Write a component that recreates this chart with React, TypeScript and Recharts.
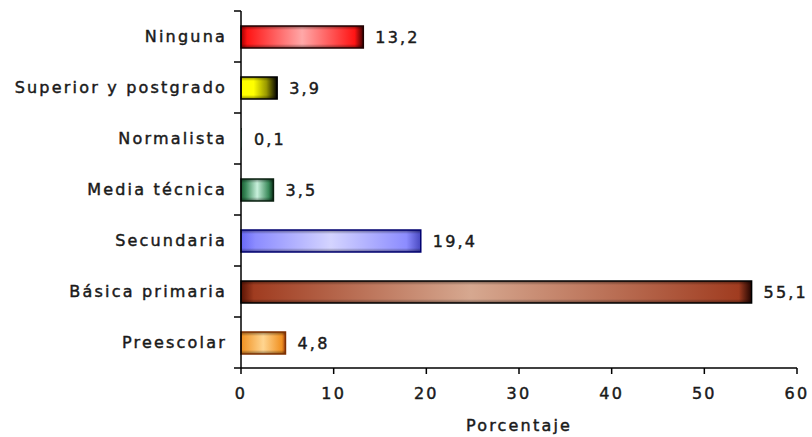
import React from 'react';
import { BarChart, Bar, XAxis, YAxis, LabelList } from 'recharts';

const categories = ['Ninguna', 'Superior y postgrado', 'Normalista', 'Media técnica', 'Secundaria', 'Básica primaria', 'Preescolar'];
const values = [13.2, 3.9, 0.1, 3.5, 19.4, 55.1, 4.8];
const xTicks = [0, 10, 20, 30, 40, 50, 60];

const data = categories.map((c, i) => ({ name: c, value: values[i] }));

const FONT = '"DejaVu Sans", Verdana, sans-serif';
const LS = 2.2;
const FS = 16;
const TXT = '#1a1a1a';
const SW = 0.45;

type Stop = [number, string];
const gradients: { stops: Stop[]; stroke: string }[] = [
  { stops: [[0, '#a00000'], [0.05, '#ff1414'], [0.5, '#ffa8a8'], [0.93, '#ff1414'], [1, '#400000']], stroke: '#200000' },
  { stops: [[0, '#ffff00'], [0.35, '#ffff00'], [0.7, '#9a9a00'], [1, '#000000']], stroke: '#000000' },
  { stops: [[0, '#1a5a30'], [0.5, '#80c8a0'], [1, '#0a3018']], stroke: 'none' },
  { stops: [[0, '#1a5a30'], [0.15, '#3a8a5a'], [0.5, '#c8f0dc'], [0.85, '#3a8a5a'], [1, '#0a3018']], stroke: '#0a2010' },
  { stops: [[0, '#6868f8'], [0.08, '#8c8cff'], [0.5, '#d4d4ff'], [0.92, '#8c8cff'], [1, '#4848c0']], stroke: '#000070' },
  { stops: [[0, '#5a1404'], [0.025, '#a03c20'], [0.45, '#d6a890'], [0.975, '#a03c20'], [1, '#200400']], stroke: '#000000' },
  { stops: [[0, '#f09020'], [0.5, '#ffd590'], [0.92, '#f09020'], [1, '#a04010']], stroke: '#803000' },
];

const textStyle = {
  fill: TXT,
  stroke: TXT,
  strokeWidth: SW,
  fontSize: FS,
  fontFamily: FONT,
  letterSpacing: LS,
};

const YTick = (props: any) => {
  const { x, y, payload } = props;
  const off = payload && payload.offset ? payload.offset : 25.5;
  const isLast = payload.value === categories[categories.length - 1];
  return (
    <g>
      <line x1={x - 7} x2={x} y1={y - off} y2={y - off} stroke="#000" strokeWidth={1.5} />
      {isLast && <line x1={x - 7} x2={x} y1={y + off} y2={y + off} stroke="#000" strokeWidth={1.5} />}
      <text x={x - 14} y={y} textAnchor="end" dominantBaseline="central" style={textStyle}>
        {payload.value}
      </text>
    </g>
  );
};

const BarShape = (props: any) => {
  const { x, y, width, height, index } = props;
  if (!width || width <= 0) return <g />;
  const g = gradients[index];
  return (
    <g>
      <rect x={x} y={y} width={width} height={height} fill={`url(#g${index})`} />
      <rect x={x} y={y} width={width} height={height} fill="url(#vshade)" />
      {g.stroke !== 'none' && (
        <rect x={x} y={y} width={width} height={height} fill="none" stroke={g.stroke} strokeWidth={1.5} />
      )}
    </g>
  );
};

export default function App() {
  return (
    <div style={{ position: 'absolute', left: 0, top: 0, width: 812, height: 437, background: '#fff' }}>
      <svg width={0} height={0} style={{ position: 'absolute' }}>
        <defs>
          {gradients.map((g, i) => (
            <linearGradient key={i} id={`g${i}`} x1="0" y1="0" x2="1" y2="0">
              {g.stops.map(([o, c], j) => (
                <stop key={j} offset={o} stopColor={c} />
              ))}
            </linearGradient>
          ))}
          <linearGradient id="vshade" x1="0" y1="0" x2="0" y2="1">
            <stop offset={0} stopColor="#000" stopOpacity={0.45} />
            <stop offset={0.18} stopColor="#000" stopOpacity={0} />
            <stop offset={0.82} stopColor="#000" stopOpacity={0} />
            <stop offset={1} stopColor="#000" stopOpacity={0.45} />
          </linearGradient>
        </defs>
      </svg>
      <BarChart
        width={812}
        height={437}
        data={data}
        layout="vertical"
        margin={{ top: 11, right: 15, left: 0, bottom: 0 }}
      >
        <XAxis
          type="number"
          domain={[0, 60]}
          ticks={xTicks}
          height={69}
          tickSize={6}
          tickMargin={14}
          axisLine={{ stroke: '#000', strokeWidth: 1.5 }}
          tickLine={{ stroke: '#000', strokeWidth: 1.5 }}
          tick={{ ...textStyle }}
          label={{ value: 'Porcentaje', position: 'insideBottom', offset: 6, style: textStyle }}
        />
        <YAxis
          type="category"
          dataKey="name"
          width={241}
          tickSize={0}
          tickMargin={0}
          axisLine={{ stroke: '#000', strokeWidth: 1.5 }}
          tickLine={false}
          tick={<YTick />}
          interval={0}
        />
        <Bar dataKey="value" barSize={22} isAnimationActive={false} shape={<BarShape />}>
          <LabelList
            dataKey="value"
            position="right"
            offset={12}
            formatter={(v: any) => Number(v).toFixed(1).replace('.', ',')}
            style={textStyle}
          />
        </Bar>
      </BarChart>
    </div>
  );
}
